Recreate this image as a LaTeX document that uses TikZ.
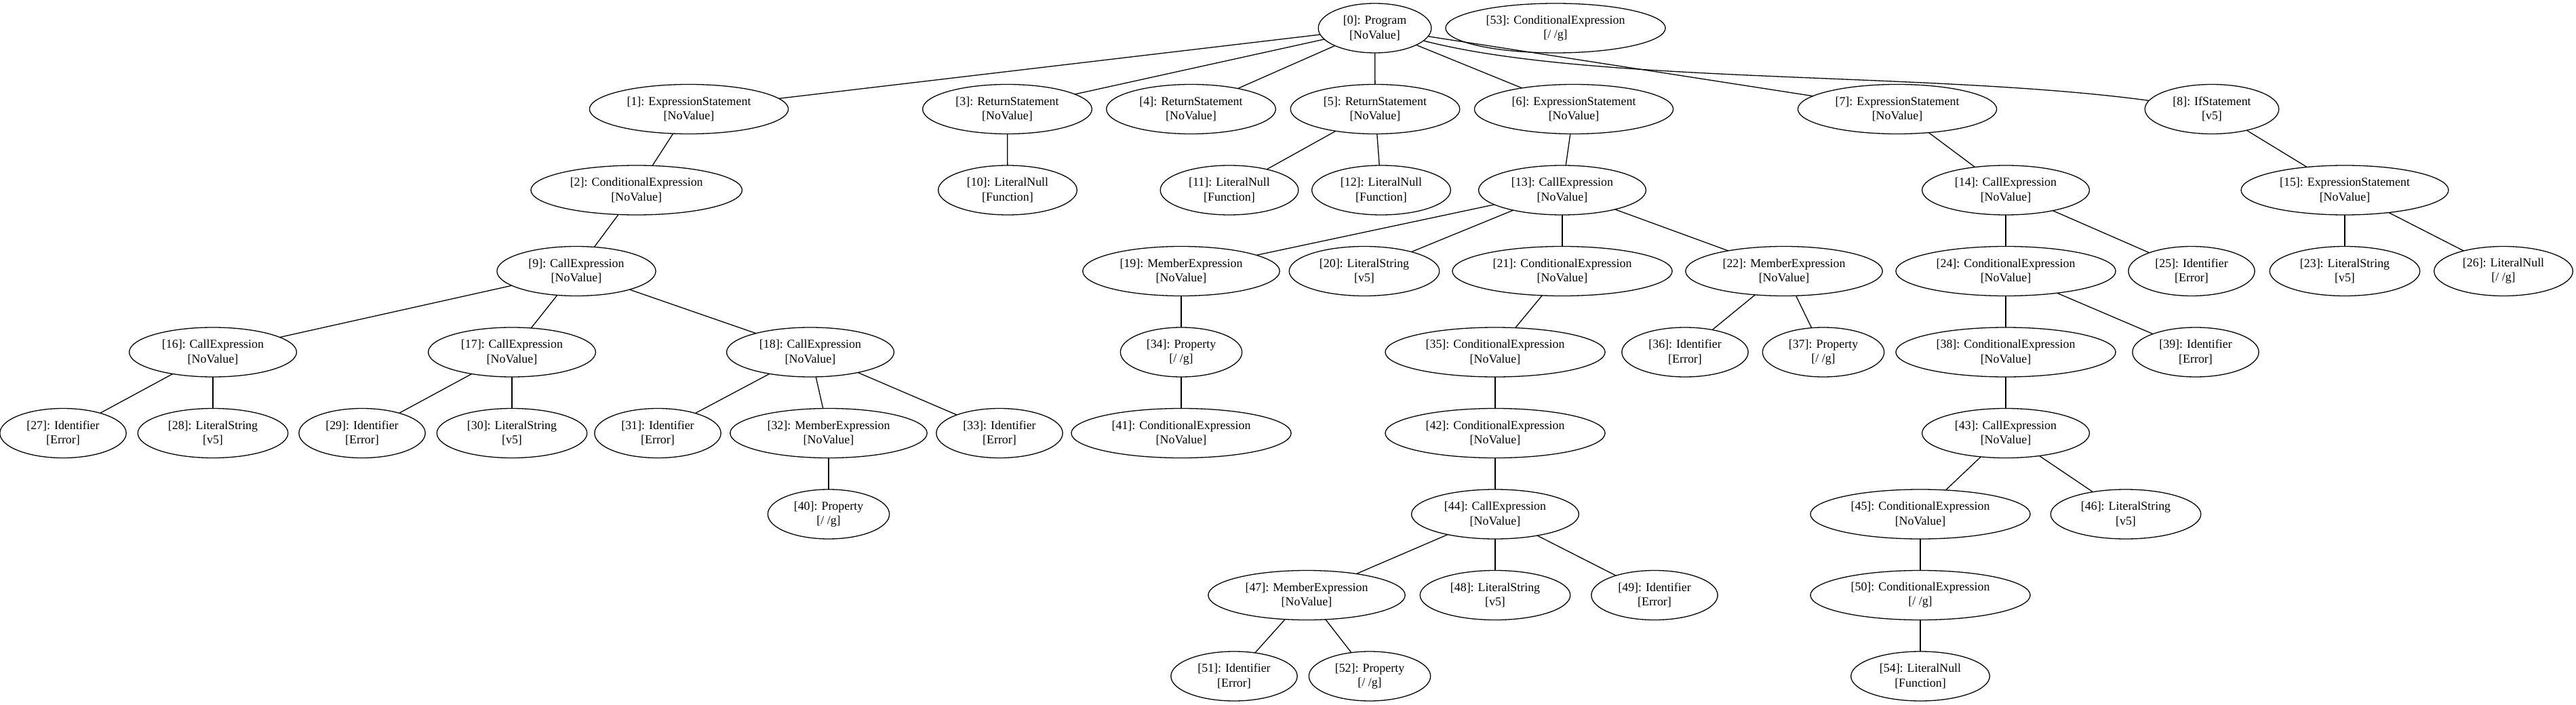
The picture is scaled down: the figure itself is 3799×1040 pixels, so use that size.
\documentclass[tikz,border=0pt]{standalone}
\usepackage{fontspec}
\setmainfont{Liberation Serif}
\usetikzlibrary{shapes.geometric}
\tikzset{
  gv/.style={draw, ellipse, line width=1.3pt, inner xsep=12.2pt, inner ysep=0pt,
    minimum height=73pt, outer sep=0pt, align=center,
    font=\fontsize{17.9}{21.3}\selectfont},
  ident/.style={gv, minimum width=178pt},
  gvedge/.style={line width=1.3pt},
}
\newcommand\gvl[2]{#1\\{#2}}
\begin{document}
\begin{tikzpicture}[x=1pt,y=-1pt]
\useasboundingbox (0,0) rectangle (3799,1040);
\def\ra{41.5}\def\rb{161}\def\rc{280.5}\def\rd{400}\def\re{519.5}
\def\rf{639}\def\rg{758.5}\def\rh{878}\def\ri{997.5}
% row 0
\node[gv] (n0) at (2027.5,\ra) {\gvl{[0]: Program}{[NoValue]}};
\node[gv] (n53) at (2294,\ra) {\gvl{[53]: ConditionalExpression}{[/ /g]}};
% row 1
\node[gv] (n1) at (1016,\rb) {\gvl{[1]: ExpressionStatement}{[NoValue]}};
\node[gv] (n3) at (1485.5,\rb) {\gvl{[3]: ReturnStatement}{[NoValue]}};
\node[gv] (n4) at (1756.5,\rb) {\gvl{[4]: ReturnStatement}{[NoValue]}};
\node[gv] (n5) at (2028,\rb) {\gvl{[5]: ReturnStatement}{[NoValue]}};
\node[gv] (n6) at (2321,\rb) {\gvl{[6]: ExpressionStatement}{[NoValue]}};
\node[gv] (n7) at (2798,\rb) {\gvl{[7]: ExpressionStatement}{[NoValue]}};
\node[gv] (n8) at (3262,\rb) {\gvl{[8]: IfStatement}{[v5]}};
% row 2
\node[gv] (n2) at (938.7,\rc) {\gvl{[2]: ConditionalExpression}{[NoValue]}};
\node[gv] (n10) at (1486,\rc) {\gvl{[10]: LiteralNull}{[Function]}};
\node[gv] (n11) at (1813,\rc) {\gvl{[11]: LiteralNull}{[Function]}};
\node[gv] (n12) at (2037,\rc) {\gvl{[12]: LiteralNull}{[Function]}};
\node[gv] (n13) at (2304,\rc) {\gvl{[13]: CallExpression}{[NoValue]}};
\node[gv] (n14) at (2958,\rc) {\gvl{[14]: CallExpression}{[NoValue]}};
\node[gv] (n15) at (3458,\rc) {\gvl{[15]: ExpressionStatement}{[NoValue]}};
% row 3
\node[gv] (n9) at (850,\rd) {\gvl{[9]: CallExpression}{[NoValue]}};
\node[gv] (n19) at (1742,\rd) {\gvl{[19]: MemberExpression}{[NoValue]}};
\node[gv] (n20) at (2012,\rd) {\gvl{[20]: LiteralString}{[v5]}};
\node[gv] (n21) at (2304,\rd) {\gvl{[21]: ConditionalExpression}{[NoValue]}};
\node[gv] (n22) at (2631,\rd) {\gvl{[22]: MemberExpression}{[NoValue]}};
\node[gv] (n24) at (2958,\rd) {\gvl{[24]: ConditionalExpression}{[NoValue]}};
\node[ident] (n25) at (3232,\rd) {\gvl{[25]: Identifier}{[Error]}};
\node[gv] (n23) at (3458,\rd) {\gvl{[23]: LiteralString}{[v5]}};
\node[gv] (n26) at (3692,\rd) {\gvl{[26]: LiteralNull}{[/ /g]}};
% row 4
\node[gv] (n16) at (314,\re) {\gvl{[16]: CallExpression}{[NoValue]}};
\node[gv] (n17) at (755,\re) {\gvl{[17]: CallExpression}{[NoValue]}};
\node[gv] (n18) at (1195,\re) {\gvl{[18]: CallExpression}{[NoValue]}};
\node[gv] (n34) at (1742,\re) {\gvl{[34]: Property}{[/ /g]}};
\node[gv] (n35) at (2205,\re) {\gvl{[35]: ConditionalExpression}{[NoValue]}};
\node[ident] (n36) at (2485,\re) {\gvl{[36]: Identifier}{[Error]}};
\node[gv] (n37) at (2689,\re) {\gvl{[37]: Property}{[/ /g]}};
\node[gv] (n38) at (2958,\re) {\gvl{[38]: ConditionalExpression}{[NoValue]}};
\node[ident] (n39) at (3238,\re) {\gvl{[39]: Identifier}{[Error]}};
% row 5
\node[ident] (n27) at (93,\rf) {\gvl{[27]: Identifier}{[Error]}};
\node[gv] (n28) at (314,\rf) {\gvl{[28]: LiteralString}{[v5]}};
\node[ident] (n29) at (534,\rf) {\gvl{[29]: Identifier}{[Error]}};
\node[gv] (n30) at (755,\rf) {\gvl{[30]: LiteralString}{[v5]}};
\node[ident] (n31) at (970,\rf) {\gvl{[31]: Identifier}{[Error]}};
\node[gv] (n32) at (1222,\rf) {\gvl{[32]: MemberExpression}{[NoValue]}};
\node[ident] (n33) at (1474,\rf) {\gvl{[33]: Identifier}{[Error]}};
\node[gv] (n41) at (1742,\rf) {\gvl{[41]: ConditionalExpression}{[NoValue]}};
\node[gv] (n42) at (2205,\rf) {\gvl{[42]: ConditionalExpression}{[NoValue]}};
\node[gv] (n43) at (2958,\rf) {\gvl{[43]: CallExpression}{[NoValue]}};
% row 6
\node[gv] (n40) at (1222,\rg) {\gvl{[40]: Property}{[/ /g]}};
\node[gv] (n44) at (2205,\rg) {\gvl{[44]: CallExpression}{[NoValue]}};
\node[gv] (n45) at (2832,\rg) {\gvl{[45]: ConditionalExpression}{[NoValue]}};
\node[gv] (n46) at (3135,\rg) {\gvl{[46]: LiteralString}{[v5]}};
% row 7
\node[gv] (n47) at (1927,\rh) {\gvl{[47]: MemberExpression}{[NoValue]}};
\node[gv] (n48) at (2205,\rh) {\gvl{[48]: LiteralString}{[v5]}};
\node[ident] (n49) at (2440,\rh) {\gvl{[49]: Identifier}{[Error]}};
\node[gv] (n50) at (2832,\rh) {\gvl{[50]: ConditionalExpression}{[/ /g]}};
% row 8
\node[ident] (n51) at (1820,\ri) {\gvl{[51]: Identifier}{[Error]}};
\node[gv] (n52) at (2020,\ri) {\gvl{[52]: Property}{[/ /g]}};
\node[gv] (n54) at (2832,\ri) {\gvl{[54]: LiteralNull}{[Function]}};
% edges
\foreach \a/\b in {0/1,0/3,0/4,0/5,0/6,0/7,1/2,2/9,9/16,9/17,9/18,16/27,16/28,
  17/29,17/30,18/31,18/32,18/33,32/40,3/10,5/11,5/12,6/13,13/19,13/20,13/21,13/22,
  19/34,34/41,21/35,35/42,42/44,44/47,44/48,44/49,47/51,47/52,22/36,22/37,
  7/14,14/24,14/25,24/38,24/39,38/43,43/45,43/46,45/50,50/54,8/15,15/23,15/26}
  \draw[gvedge] (n\a) -- (n\b);
\draw[gvedge] (n0) .. controls (2350,125) and (2850,105) .. (n8);
\end{tikzpicture}
\end{document}
